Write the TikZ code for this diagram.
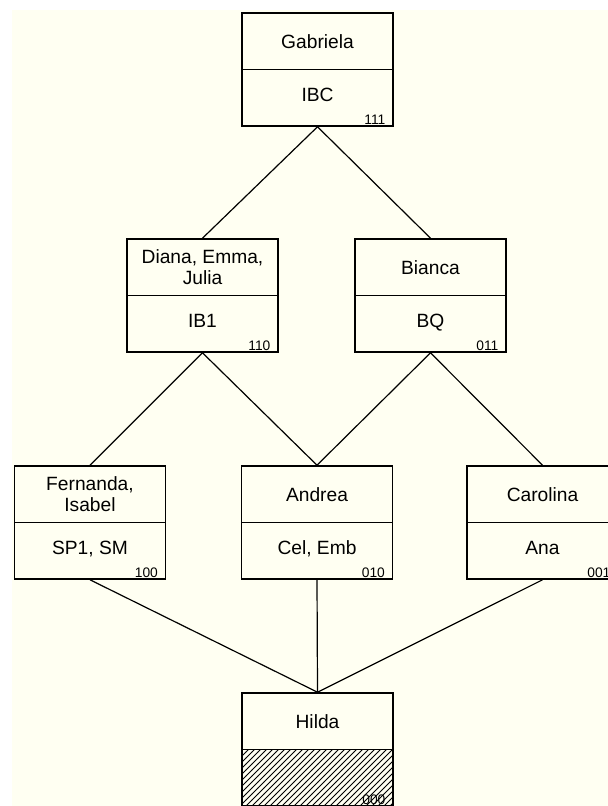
\documentclass[tikz,border=0pt]{standalone}
\usepackage{fontspec}
\setmainfont{Liberation Sans}
\usetikzlibrary{patterns}
\definecolor{paper}{RGB}{255,255,242}

\begin{document}
\begin{tikzpicture}[
        x=0.5pt,
        y=-0.5pt,
        half/.style={
          draw,
          rectangle,
          line width=0.8pt,
          minimum width=75.5pt,
          minimum height=28.25pt,
          inner sep=0pt,
          align=center,
          font=\fontsize{9.6}{10.4}\selectfont
        },
        lower/.style={
          half,
          text height=6.9pt,
          text depth=3.6pt
        },
        code/.style={
          anchor=base east,
          inner sep=0pt,
          font=\fontsize{6.9}{8}\selectfont
        },
        link/.style={
          line width=0.6pt
        }
      ]
        \useasboundingbox (0,0) rectangle (608,806);
        \fill[paper] (12,10) rectangle (608,806);

        \foreach \n/\x/\y/\t/\b/\c in {g/317.5/13/Gabriela/IBC/111,
            d/202.5/239/{Diana, Emma,\\ Julia}/IB1/110,
            b/430.5/239/Bianca/BQ/011,
            f/90/466/{Fernanda,\\ Isabel}/{SP1, SM}/100,
            a/317/466/Andrea/{Cel, Emb}/010,
            c/542.5/466/Carolina/Ana/001}
        {
          \node[half] (\n1) at (\x,\y+28.25) {\t};
          \node[lower] (\n2) at (\x,\y+84.75) {\b};
          \node[code] (\n3) at ([xshift=-4pt,yshift=1.2pt]\n2.south east) {\c};
        }

        \node[half] (h1) at (317.5,721.25) {Hilda};
        \node[half,pattern=north east lines] (h2) at (317.5,777.75) {};
        \node[code] (h3) at ([xshift=-4pt,yshift=1.2pt]h2.south east) {000};

        \foreach \u/\v in {g/d,g/b,d/f,d/a,b/a,b/c,f/h,a/h,c/h}
          \draw[link] (\u2.south) -- (\v1.north);
      \end{tikzpicture}
\end{document}
